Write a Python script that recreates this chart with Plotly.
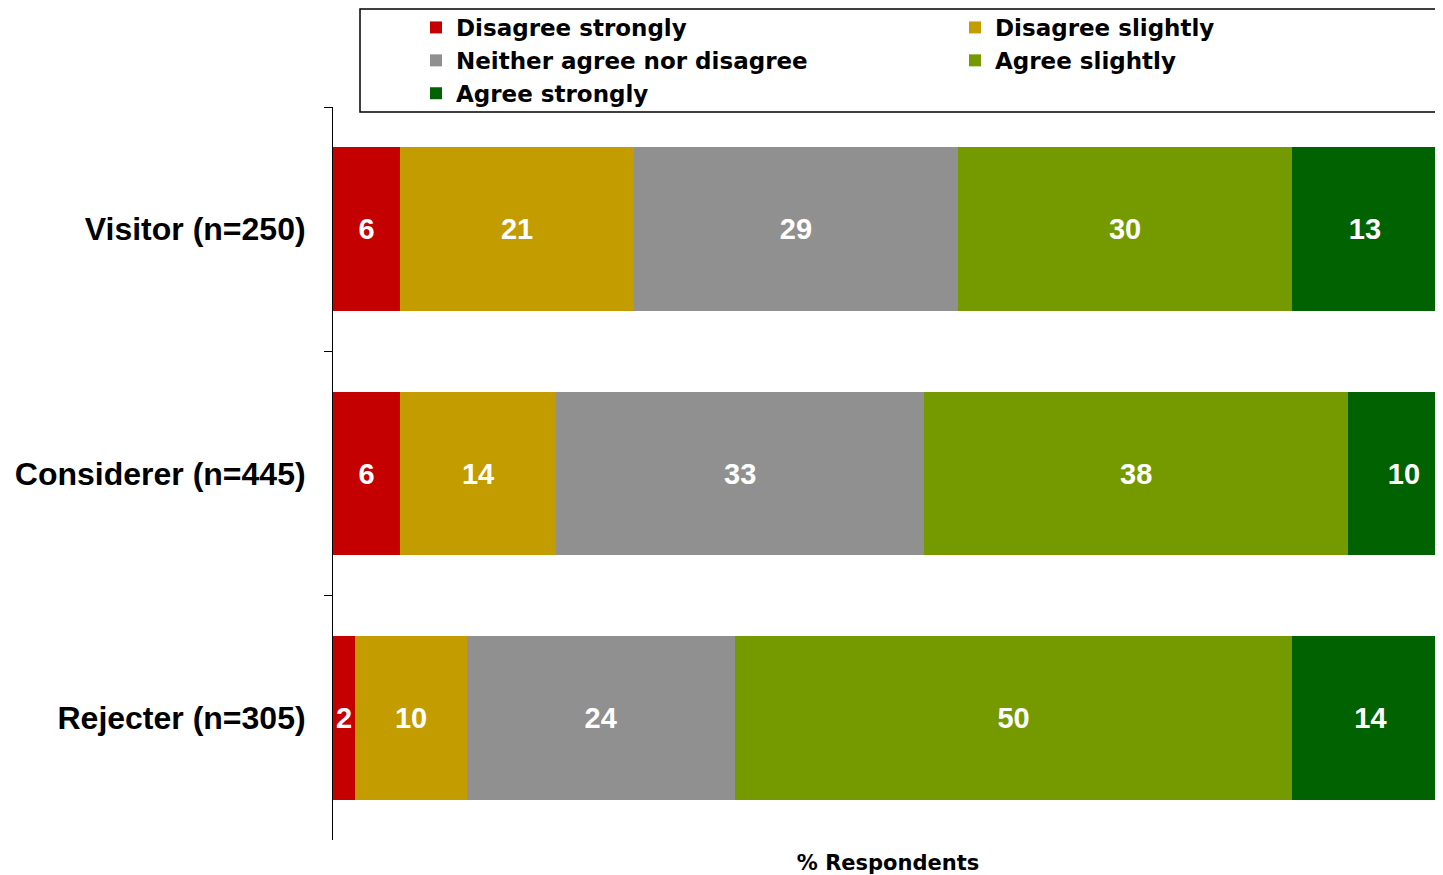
import plotly.graph_objects as go

segments = ["Visitor (n=250)", "Considerer (n=445)", "Rejecter (n=305)"]
series_names = ["Disagree strongly", "Disagree slightly", "Neither agree nor disagree",
                "Agree slightly", "Agree strongly"]
disagree_strongly = [6, 6, 2]
disagree_slightly = [21, 14, 10]
neither = [29, 33, 24]
agree_slightly = [30, 38, 50]
agree_strongly = [13, 10, 14]
series_values = [disagree_strongly, disagree_slightly, neither, agree_slightly, agree_strongly]
colors = ["#c40000", "#c39c00", "#909090", "#749a00", "#006200"]
legend_ids = ["legend", "legend2", "legend", "legend2", "legend"]

FONT = "Liberation Sans, Arial, sans-serif"
WIDE = "DejaVu Sans, Verdana, sans-serif"

# page body adds an 8px offset; figure is sized/margined to compensate
W, H = 1435, 867
ML, MR, MT, MB = 325, 0, 99, 35
PW, PH = W - ML - MR, H - MT - MB

fig = go.Figure()
for name, vals, col, lg in zip(series_names, series_values, colors, legend_ids):
    fig.add_trace(go.Bar(
        y=segments, x=vals, name=name, orientation="h", legend=lg,
        marker=dict(color=col, line=dict(width=0)),
        text=[str(v) for v in vals], textposition="inside",
        insidetextanchor="middle", textangle=0, constraintext="none",
        textfont=dict(family=FONT, size=29, color="white", weight="bold"),
        hoverinfo="x+y+name",
    ))

legend_font = dict(family=WIDE, size=23, color="black", weight="bold")
legend_y = (PH + MT + 2) / PH

fig.update_layout(
    width=W, height=H,
    barmode="stack", bargap=0.33,
    plot_bgcolor="white", paper_bgcolor="white",
    margin=dict(l=ML, r=MR, t=MT, b=MB, autoexpand=False),
    font=dict(family=FONT, color="black"),
    showlegend=True,
    legend=dict(
        orientation="v", traceorder="normal",
        x=(408 - ML) / PW, xanchor="left", y=legend_y, yanchor="top",
        font=legend_font, bgcolor="rgba(0,0,0,0)", borderwidth=0,
    ),
    legend2=dict(
        orientation="v", traceorder="normal",
        x=(947 - ML) / PW, xanchor="left", y=legend_y, yanchor="top",
        font=legend_font, bgcolor="rgba(0,0,0,0)", borderwidth=0,
    ),
    xaxis=dict(
        range=[0, 99.5], showgrid=False, zeroline=False, showline=False,
        showticklabels=False, ticks="", automargin=False,
        title=dict(text="% Respondents", standoff=15,
                   font=dict(family=WIDE, size=21, color="black", weight="bold")),
    ),
    yaxis=dict(
        autorange="reversed", showgrid=False, zeroline=False,
        showline=True, linecolor="black", linewidth=1,
        ticks="outside", tickson="boundaries", ticklen=8, tickcolor="black", tickwidth=1,
        ticklabelstandoff=20, automargin=False,
        tickfont=dict(family=FONT, size=32, color="black", weight="bold"),
    ),
    shapes=[dict(type="rect", xref="paper", yref="paper",
                 x0=(352 - ML) / PW, x1=(1429 - ML) / PW,
                 y0=(PH + MT - 104) / PH, y1=(PH + MT - 1) / PH,
                 line=dict(color="black", width=1.5), fillcolor="rgba(0,0,0,0)")],
)

fig.write_html("out.html")
